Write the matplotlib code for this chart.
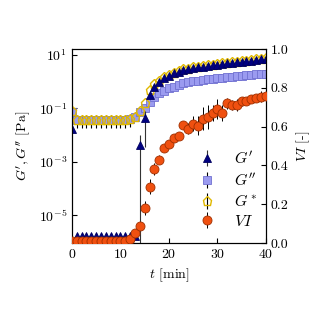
import matplotlib
matplotlib.use('Agg')
import matplotlib.pyplot as plt
import numpy as np

plt.rcParams['font.family'] = 'serif'
plt.rcParams['font.serif'] = ['cmr10', 'DejaVu Serif']
plt.rcParams['mathtext.fontset'] = 'cm'
plt.rcParams['axes.formatter.use_mathtext'] = True
plt.rcParams['font.size'] = 10

t = np.arange(0, 41)

# log10 of moduli
logGp = [-1.78] + [-5.8] * 13 + [-2.38, -1.37, -0.5, -0.2, -0.02, 0.14, 0.21, 0.32, 0.36,
         0.44, 0.47, 0.51, 0.53, 0.56, 0.59, 0.62, 0.64, 0.67, 0.69, 0.71, 0.73, 0.75,
         0.77, 0.79, 0.82, 0.84, 0.86]
logGpp = [-1.14] + [-1.44] * 11 + [-1.42, -1.33, -1.14, -0.99, -0.76, -0.58, -0.43, -0.35,
          -0.24, -0.2, -0.12, -0.05, -0.01, 0.03, 0.04, 0.06, 0.08, 0.1, 0.12, 0.14, 0.16,
          0.18, 0.2, 0.22, 0.24, 0.26, 0.27, 0.29, 0.3]
logGs = [-1.1] + [-1.43] * 11 + [-1.41, -1.32, -1.12, -0.8, -0.3, -0.08, 0.04, 0.17, 0.25,
         0.34, 0.38, 0.46, 0.49, 0.53, 0.55, 0.58, 0.61, 0.64, 0.66, 0.69, 0.71, 0.73,
         0.75, 0.77, 0.79, 0.81, 0.84, 0.86, 0.88]
Gp = 10 ** np.array(logGp)
Gpp = 10 ** np.array(logGpp)
Gs = 10 ** np.array(logGs)

Gp_err = [0.0] * 14 + [0.006, 0.039] + [0.0] * 25
Gpp_err = [0.018] * 13 + [0.0] * 28
Gs_err = [0.0] * 41

VI = [0.01] * 11 + [0.012, 0.02, 0.05, 0.087, 0.18, 0.29, 0.38, 0.43, 0.49, 0.51, 0.54, 0.55,
      0.61, 0.59, 0.615, 0.605, 0.64, 0.65, 0.67, 0.69, 0.67, 0.72, 0.71, 0.71, 0.73, 0.73,
      0.74, 0.75, 0.755, 0.76]
VI_err = [0.005] * 12 + [0.01, 0.015, 0.02, 0.035, 0.04, 0.03, 0.025, 0.02, 0.015, 0.015, 0.015,
          0.02, 0.03, 0.04, 0.05, 0.06, 0.06, 0.04, 0.05, 0.04, 0.03, 0.025, 0.03, 0.025,
          0.015, 0.02, 0.02, 0.03, 0.02]

fig = plt.figure(figsize=(3.27, 3.27), dpi=100)
ax = fig.add_axes([0.22, 0.257, 0.593, 0.593])
ax2 = ax.twinx()

ms = 6
h1 = ax.errorbar(t, Gp, yerr=Gp_err, fmt='^', ms=ms, mfc='#000080', mec='#000060',
                 mew=0.6, ecolor='#333333', elinewidth=0.8, label="$G'$", zorder=4)
h2 = ax.errorbar(t, Gpp, yerr=Gpp_err, fmt='s', ms=ms, mfc='#9b9bf0', mec='#7070d0',
                 mew=0.6, ecolor='black', elinewidth=0.8, label="$G''$", zorder=2)
h3 = ax.errorbar(t, Gs, yerr=Gs_err, fmt='p', ms=ms + 0.5, mfc='none', mec='#e0b800',
                 mew=1.0, ecolor='black', elinewidth=0.8, label='$G^*$', zorder=3)
h4 = ax2.errorbar(t, VI, yerr=VI_err, fmt='o', ms=ms + 0.5, mfc='#f05010', mec='#a03000',
                  mew=0.6, ecolor='black', elinewidth=0.7, label='$VI$', zorder=3)

ax.set_yscale('log')
ax.set_ylim(10 ** -6.05, 10 ** 1.22)
ax.set_yticks([1e1, 1e-1, 1e-3, 1e-5])
ax.yaxis.set_minor_locator(matplotlib.ticker.NullLocator())
ax.set_xlim(0, 40)
ax.set_xticks([0, 10, 20, 30, 40])
ax2.set_ylim(0, 1.0)
ax2.set_yticks([0.0, 0.2, 0.4, 0.6, 0.8, 1.0])
ax2.yaxis.set_major_formatter(matplotlib.ticker.FormatStrFormatter('%.1f'))

ax.tick_params(direction='in', length=3.5, width=0.8)
ax2.tick_params(direction='in', length=3.5, width=0.8)

ax.set_xlabel('$t$ [min]')
ax.set_ylabel("$G', G''$ [Pa]")
ax2.set_ylabel('$VI$ [-]')

ax2.legend([h1, h2, h3, h4], ["$G'$", "$G''$", '$G^*$', '$VI$'], loc='lower right',
           frameon=False, fontsize=11.5, handletextpad=0.7, labelspacing=0.28,
           bbox_to_anchor=(1.03, 0.0))

fig.savefig('out.png', dpi=100)
